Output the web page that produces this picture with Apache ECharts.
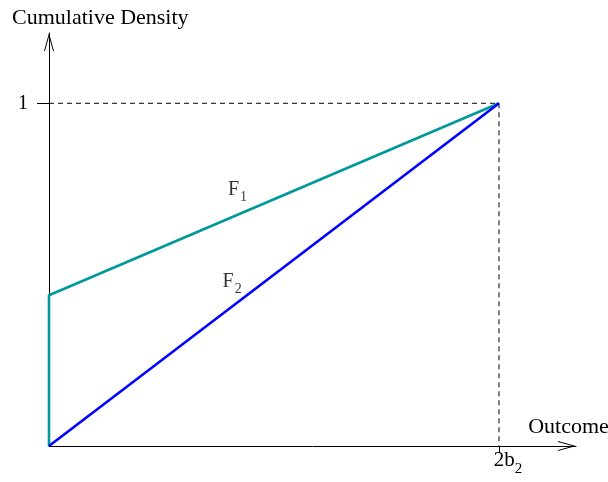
<!DOCTYPE html>
<html>
<head>
<meta charset="utf-8">
<script src="https://cdn.jsdelivr.net/npm/echarts@6/dist/echarts.min.js"></script>
<style>
  html, body { margin: 0; padding: 0; background: #fff; }
  #chart { width: 608px; height: 482px; }
</style>
</head>
<body>
<div id="chart"></div>
<script>
// outcome in units of 2b2, cumulative density 0..1
const f1Outcome = [0, 0, 1];
const f1Density = [0, 0.44, 1];
const f2Outcome = [0, 1];
const f2Density = [0, 1];
const guideOutcome = [0, 1, 1];
const guideDensity = [1, 1, 0];

const xTickValues = [1];
const xTickLabels = ['{m|2b}{s|2}'];
const yTickValues = [1];
const yTickLabels = ['1'];

const curveNames = ['F', 'F'];
const curveSubs = ['1', '2'];
// where the curve names sit, in data units
const nameAtOutcome = [0.419, 0.407];
const nameAtDensity = [0.747, 0.479];

const serif = "'Liberation Serif', 'Times New Roman', serif";
const arrow = 'path://M5,0 L10,18 L9,18 L5,3.6 L1,18 L0,18 Z';

function pairs(xs, ys) {
    return xs.map(function (x, i) { return [x, ys[i]]; });
}

let chart = echarts.init(document.getElementById('chart'));

let axisLine = {
    lineStyle: { color: '#000', width: 1 },
    symbol: ['none', arrow],
    symbolSize: [10, 18],
    symbolOffset: [0, -9]
};

let option = {
    animation: false,
    backgroundColor: '#fff',
    grid: { left: 49, right: 32, top: 33, bottom: 36, outerBoundsMode: 'none' },
    xAxis: {
        type: 'value',
        min: 0,
        max: 1.1711,
        name: 'Outcome',
        nameLocation: 'end',
        nameGap: -10.5,
        nameTextStyle: {
            fontFamily: serif, fontSize: 22, color: '#000',
            align: 'center', verticalAlign: 'bottom',
            lineHeight: 22, padding: [0, 0, 8, 0]
        },
        axisLine: axisLine,
        splitLine: { show: false },
        axisTick: {
            customValues: xTickValues,
            length: 7,
            lineStyle: { color: '#000' }
        },
        axisLabel: {
            customValues: xTickValues,
            formatter: function (v) { return xTickLabels[xTickValues.indexOf(v)] || ''; },
            margin: 4,
            padding: [0, 0, 0, 18],
            color: '#000',
            rich: {
                m: { fontFamily: serif, fontSize: 21, lineHeight: 21, color: '#000' },
                s: { fontFamily: serif, fontSize: 15, lineHeight: 15, padding: [18, 0, 0, 0], color: '#000' }
            }
        }
    },
    yAxis: {
        type: 'value',
        min: 0,
        max: 1.2051,
        name: 'Cumulative Density',
        nameLocation: 'end',
        nameGap: 15,
        nameTextStyle: {
            fontFamily: serif, fontSize: 22, color: '#000',
            align: 'center', verticalAlign: 'middle',
            padding: [0, 0, 0, 102.6]
        },
        axisLine: axisLine,
        splitLine: { show: false },
        axisTick: {
            customValues: yTickValues,
            length: 12,
            lineStyle: { color: '#000' }
        },
        axisLabel: {
            customValues: yTickValues,
            formatter: function (v) { return yTickLabels[yTickValues.indexOf(v)] || ''; },
            margin: 21,
            padding: [0, 0, 4, 0],
            fontFamily: serif,
            fontSize: 20,
            color: '#000'
        }
    },
    series: [
        {
            type: 'line',
            data: pairs(guideOutcome, guideDensity),
            symbol: 'none',
            lineStyle: { color: '#000', width: 1, type: [5, 4] },
            z: 1
        },
        {
            type: 'line',
            data: pairs(f1Outcome, f1Density),
            symbol: 'none',
            lineStyle: { color: '#009999', width: 2.6 },
            z: 3
        },
        {
            type: 'line',
            data: pairs(f2Outcome, f2Density),
            symbol: 'none',
            lineStyle: { color: '#0000ff', width: 2.6 },
            z: 4
        },
        {
            type: 'scatter',
            symbolSize: 0,
            data: pairs(nameAtOutcome, nameAtDensity),
            label: {
                show: true,
                position: 'inside',
                formatter: function (p) {
                    return '{f|' + curveNames[p.dataIndex] + '}{s|' + curveSubs[p.dataIndex] + '}';
                },
                rich: {
                    f: { fontFamily: serif, fontSize: 20, lineHeight: 20, color: '#000' },
                    s: { fontFamily: serif, fontSize: 14, lineHeight: 14, padding: [14, 0, 0, 1], color: '#000' }
                }
            },
            z: 5
        }
    ]
};

chart.setOption(option);
</script>
</body>
</html>
